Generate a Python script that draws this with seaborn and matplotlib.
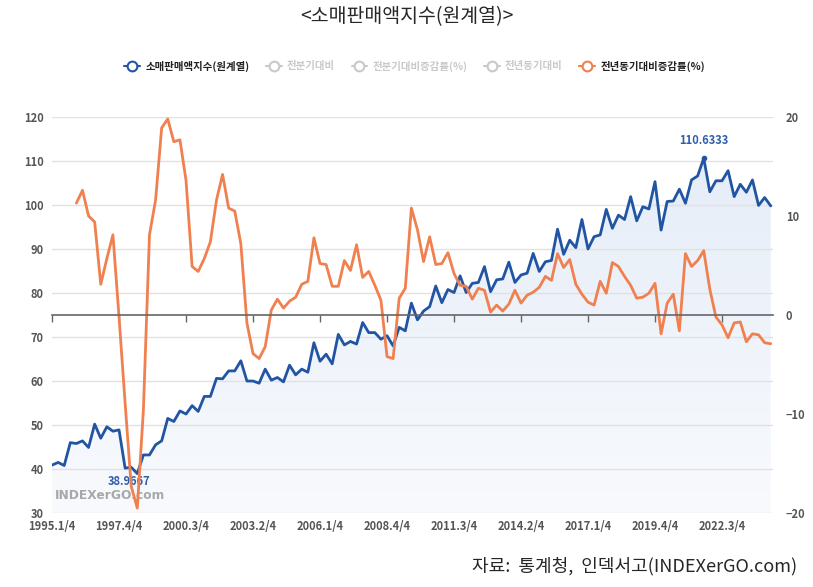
import numpy as np
import pandas as pd
import matplotlib
import matplotlib.pyplot as plt
from matplotlib.lines import Line2D
from matplotlib.colors import LinearSegmentedColormap
import seaborn as sns

matplotlib.use('Agg')

# 소매판매액지수(원계열), quarterly from 1995.1/4 to 2024.3/4
retail_index = [
    40.9, 41.5, 40.8, 46.0, 45.8, 46.4, 44.9, 50.2, 47.0, 49.6,
    48.6, 48.9, 40.2, 40.4, 38.9667, 43.2, 43.2, 45.5, 46.4, 51.5,
    50.8, 53.2, 52.5, 54.4, 53.1, 56.5, 56.5, 60.6, 60.5, 62.3,
    62.3, 64.6, 60.0, 60.0, 59.5, 62.7, 60.2, 60.8, 59.8, 63.6,
    61.4, 62.7, 62.0, 68.7, 64.5, 66.1, 63.9, 70.6, 68.2, 69.0,
    68.4, 73.3, 71.0, 71.0, 69.5, 70.3, 68.0, 72.2, 71.4, 77.7,
    73.9, 75.9, 76.9, 81.6, 77.8, 80.8, 80.1, 83.9, 80.1, 82.2,
    82.4, 86.0, 80.3, 83.0, 83.2, 87.0, 82.4, 84.1, 84.5, 89.0,
    84.9, 87.1, 87.4, 94.5, 88.8, 92.0, 90.3, 96.7, 90.0, 92.8,
    93.2, 99.0, 94.7, 97.7, 96.7, 101.9, 96.4, 99.6, 99.1, 105.3,
    94.3, 100.8, 100.9, 103.6, 100.4, 105.7, 106.6, 110.6333, 103.0, 105.5,
    105.5, 107.8, 101.9, 104.7, 102.9, 105.7, 99.9, 101.7, 99.8,
]

# 전년동기대비증감률(%), starts at 1996.1/4
yoy_rate = [
    11.3, 12.6, 10.0, 9.4, 3.1, 5.7, 8.1, -0.2, -8.9, -17.3,
    -19.5, -9.6, 8.1, 11.6, 18.9, 19.8, 17.5, 17.7, 13.6, 4.9,
    4.4, 5.7, 7.4, 11.6, 14.2, 10.8, 10.5, 7.2, -0.8, -3.9,
    -4.4, -3.2, 0.5, 1.6, 0.7, 1.4, 1.8, 3.1, 3.4, 7.8,
    5.2, 5.1, 2.9, 2.9, 5.5, 4.5, 7.1, 3.8, 4.4, 3.0,
    1.5, -4.2, -4.4, 1.7, 2.7, 10.8, 8.6, 5.4, 7.9, 5.1,
    5.2, 6.3, 4.2, 3.0, 2.9, 1.6, 2.7, 2.5, 0.3, 1.0,
    0.4, 1.1, 2.5, 1.2, 2.0, 2.3, 2.8, 3.9, 3.5, 6.2,
    4.8, 5.6, 3.1, 2.1, 1.3, 1.0, 3.4, 2.2, 5.3, 4.9,
    3.9, 3.0, 1.7, 1.8, 2.2, 3.2, -1.9, 1.2, 2.1, -1.6,
    6.2, 4.9, 5.5, 6.5, 2.6, -0.2, -1.0, -2.3, -0.8, -0.7,
    -2.7, -1.9, -2.0, -2.8, -2.9,
]
yoy_start = 4

tick_labels = ['1995.1/4', '1997.4/4', '2000.3/4', '2003.2/4', '2006.1/4',
               '2008.4/4', '2011.3/4', '2014.2/4', '2017.1/4', '2019.4/4',
               '2022.3/4']
legend_labels = ['소매판매액지수(원계열)', '전분기대비', '전분기대비증감률(%)',
                 '전년동기대비', '전년동기대비증감률(%)']

BLUE = '#2155a3'
ORANGE = '#f0804f'
LIGHT = '#c9c9c9'
TICK = '#555555'

sns.set_style("white")
plt.rcParams['font.family'] = ['Noto Sans CJK KR', 'DejaVu Sans']

df = pd.DataFrame({'q': np.arange(len(retail_index)), 'index': retail_index})
df['yoy'] = [np.nan] * yoy_start + yoy_rate

fig, ax = plt.subplots(figsize=(8.13, 5.87), dpi=100)
fig.subplots_adjust(left=0.064, right=0.951, top=0.8007, bottom=0.126)

ax.set_ylim(30, 120)
ax.set_xlim(0, 118.4)

# left axis: index with a soft vertical gradient fill below the line
area = ax.fill_between(df['q'], df['index'], 30, color='none', lw=0)
grad_cmap = LinearSegmentedColormap.from_list('fade', ['#f8fafd', '#e6edf8'])
grad = ax.imshow(np.linspace(0, 1, 256).reshape(-1, 1), cmap=grad_cmap,
                 aspect='auto', origin='lower', extent=[0, 118.4, 30, 112],
                 zorder=0.2)
grad.set_clip_path(area.get_paths()[0], transform=ax.transData)

sns.lineplot(data=df, x='q', y='index', ax=ax, color=BLUE, lw=2, zorder=3)
ax.set_ylim(30, 120)
ax.set_xlim(0, 118.4)
ax.set_yticks(range(30, 121, 10))
ax.set_xticks(np.arange(0, 11 * len(tick_labels), 11))
ax.set_xticklabels(tick_labels)
ax.set_xlabel('')
ax.set_ylabel('')
ax.grid(axis='y', color='#e1e1e1', lw=1)
ax.set_axisbelow(True)
for s in ax.spines.values():
    s.set_visible(False)
ax.tick_params(axis='both', length=0, labelcolor=TICK, labelsize=8)
ax.tick_params(axis='y', pad=6)
ax.tick_params(axis='x', pad=5)
for lab in ax.get_xticklabels() + ax.get_yticklabels():
    lab.set_fontweight('bold')

# max / min labels
imax = int(np.argmax(retail_index))
imin = int(np.argmin(retail_index))
ax.plot([imax], [retail_index[imax]], 'o', ms=3, color=BLUE, zorder=4)
ax.annotate(f'{retail_index[imax]:.4f}', (imax, retail_index[imax]),
            xytext=(0, 8), textcoords='offset points', ha='center', va='bottom',
            color='#2f5ea8', fontsize=8, fontweight='bold')
ax.annotate(f'{retail_index[imin]:.4f}', (imin, retail_index[imin]),
            xytext=(-6, -6), textcoords='offset points', ha='center', va='center',
            color='#2f5ea8', fontsize=8, fontweight='bold')

ax.text(0.004, 0.044, 'INDEXerGO.com', transform=ax.transAxes, color='#9a9a9a',
        fontsize=8.8, fontweight='bold', va='center', ha='left', alpha=0.85,
        family='DejaVu Sans', zorder=2)

# right axis: YoY %
ax2 = ax.twinx()
sns.lineplot(data=df, x='q', y='yoy', ax=ax2, color=ORANGE, lw=2)
ax2.set_ylim(-20, 20)
ax2.set_yticks([-20, -10, 0, 10, 20])
ax2.set_xlabel('')
ax2.set_ylabel('')
for name, s in ax2.spines.items():
    s.set_visible(name == 'bottom')
ax2.spines['bottom'].set_position(('data', 0))
ax2.spines['bottom'].set_color('#666666')
ax2.spines['bottom'].set_linewidth(1.2)
ax2.xaxis.set_visible(True)
ax2.tick_params(axis='x', bottom=True, labelbottom=False, length=5,
                direction='out', color='#666666', width=1)
ax2.tick_params(axis='y', length=0, pad=9, labelcolor=TICK, labelsize=8)
for lab in ax2.get_yticklabels():
    lab.set_fontweight('bold')

fig.text(0.5, 1 - 17 / 587, '<소매판매액지수(원계열)>', ha='center', va='center',
         fontsize=14)

colors = [BLUE, LIGHT, LIGHT, LIGHT, ORANGE]
handles = [Line2D([0], [0], color=c, lw=1.5, marker='o', ms=7,
                  mfc='white', mew=1.5) for c in colors]
fig.legend(handles, legend_labels, loc='center', bbox_to_anchor=(0.51, 1 - 66 / 587),
           ncol=5, frameon=False, prop={'weight': 'bold', 'size': 7.5},
           handlelength=1.5, columnspacing=1.6, handletextpad=0.5,
           labelcolor=['#222222', LIGHT, LIGHT, LIGHT, '#222222'])

fig.text(0.980, 1 - 566 / 587, '자료:  통계청,  인덱서고(INDEXerGO.com)',
         ha='right', va='center', fontsize=13)

fig.savefig('out.png', dpi=100)
